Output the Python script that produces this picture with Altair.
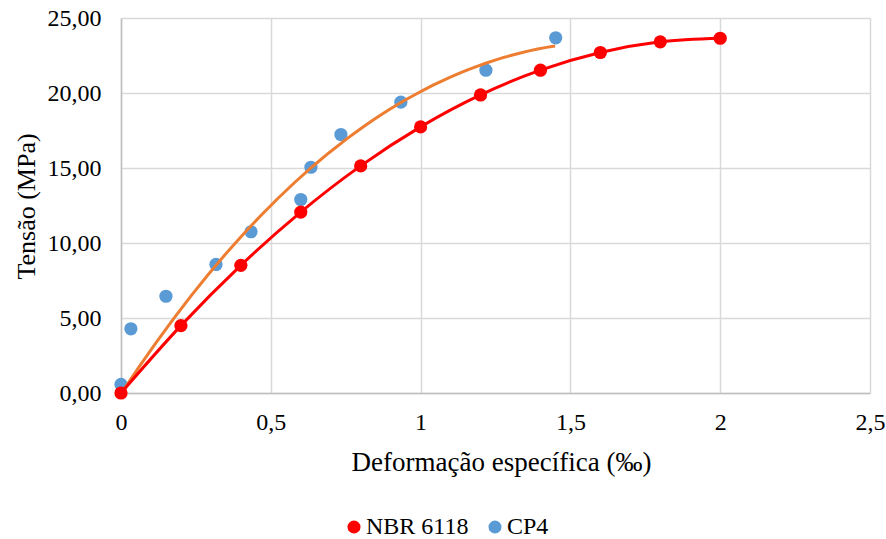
import altair as alt
import pandas as pd

# NBR 6118 curve
strain_nbr = [0, 0.2, 0.4, 0.6, 0.8, 1.0, 1.2, 1.4, 1.6, 1.8, 2.0]
stress_nbr = [0, 4.49, 8.51, 12.06, 15.14, 17.74, 19.87, 21.52, 22.70, 23.41, 23.65]

# CP4 measured points
strain_cp4 = [0, 0.033, 0.150, 0.317, 0.434, 0.600, 0.634, 0.734, 0.934, 1.218, 1.451]
stress_cp4 = [0.57, 4.28, 6.45, 8.57, 10.75, 12.90, 15.05, 17.23, 19.39, 21.52, 23.68]

# CP4 trend line
trend_x = [0, 0.18, 0.314, 0.431, 0.597, 0.731, 0.931, 1.0, 1.22, 1.449]
trend_y = [0, 4.95, 8.62, 10.8, 14.45, 16.79, 19.23, 20.12, 21.9, 23.19]

series_names = ["NBR 6118", "CP4"]
series_colors = ["#FF0000", "#5B9BD5"]
trend_color = "#ED7D31"

x_ticks = [0, 0.5, 1, 1.5, 2, 2.5]
y_ticks = [0, 5, 10, 15, 20, 25]

nbr = pd.DataFrame({"x": strain_nbr, "y": stress_nbr, "serie": series_names[0]})
cp4 = pd.DataFrame({"x": strain_cp4, "y": stress_cp4, "serie": series_names[1]})
trend = pd.DataFrame({"x": trend_x, "y": trend_y})

FONT = "Liberation Serif"

xs = alt.Scale(domain=[0, 2.5], nice=False)
ys = alt.Scale(domain=[0, 25], nice=False)

x_axis = alt.Axis(
    values=x_ticks, format="~g", labelExpr="replace(datum.label, '.', ',')",
    title="Deformação específica (‰)", ticks=False, labelPadding=17, labelFlush=False,
    labelFont=FONT, labelFontSize=24, titleFont=FONT, titleFontSize=27,
    titleX=380, titleY=77, titleBaseline="alphabetic", titleAnchor="middle",
)
y_axis = alt.Axis(
    values=y_ticks, labelExpr="replace(format(datum.value, '.2f'), '.', ',')",
    title="Tensão (MPa)", ticks=False, labelPadding=20, labelFlush=False,
    labelFont=FONT, labelFontSize=24, titleFont=FONT, titleFontSize=26,
    titleX=-95, titleY=188, titleBaseline="middle", titleAngle=-90,
)

color = alt.Color(
    "serie:N",
    scale=alt.Scale(domain=series_names, range=series_colors),
    legend=alt.Legend(
        title=None, orient="none", direction="horizontal",
        legendX=221, legendY=497, symbolType="circle", symbolSize=170,
        symbolStrokeWidth=0, labelFontSize=24, labelFont=FONT, labelColor="#000000",
        labelOffset=0, columnPadding=14, padding=0,
    ),
)

blue_pts = alt.Chart(cp4).mark_point(filled=True, size=175, opacity=1).encode(
    x=alt.X("x:Q", scale=xs, axis=x_axis),
    y=alt.Y("y:Q", scale=ys, axis=y_axis),
    color=color,
)

orange = alt.Chart(trend).transform_regression(
    "x", "y", method="poly", order=3, extent=[0, 1.449]
).mark_line(color=trend_color, strokeWidth=3).encode(
    x=alt.X("x:Q", scale=xs), y=alt.Y("y:Q", scale=ys)
)

red_line = alt.Chart(nbr).mark_line(color="#FF0000", strokeWidth=3, interpolate="monotone").encode(
    x=alt.X("x:Q", scale=xs), y=alt.Y("y:Q", scale=ys)
)

red_pts = alt.Chart(nbr).mark_point(filled=True, size=175, opacity=1).encode(
    x=alt.X("x:Q", scale=xs), y=alt.Y("y:Q", scale=ys), color=color
)

chart = alt.layer(blue_pts, orange, red_line, red_pts).properties(
    width=749, height=375,
    autosize=alt.AutoSizeParams(type="none"),
    padding={"left": 121, "top": 18, "right": 16, "bottom": 146},
    background="white",
).configure_view(stroke=None).configure_axis(
    labelColor="#000000", labelFontWeight="normal",
    titleColor="#000000", titleFontWeight="normal",
    gridColor="#D9D9D9", gridWidth=1.5, domainColor="#BFBFBF", domainWidth=1.5,
).configure_legend(labelFont=FONT)

chart.save("out.html", embed_options={"renderer": "svg", "actions": False})
